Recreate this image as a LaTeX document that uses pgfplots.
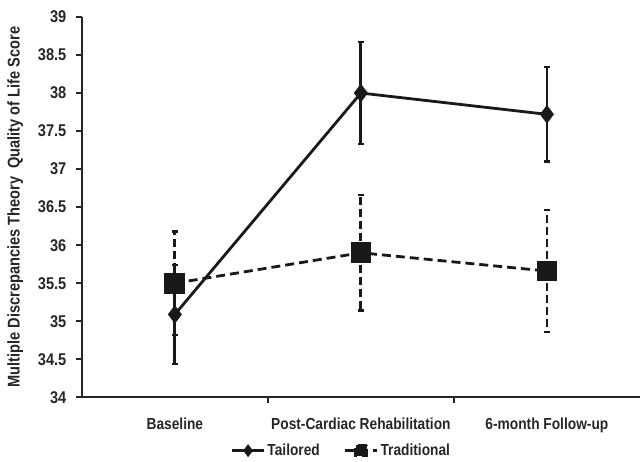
\documentclass[border=0pt]{standalone}
\usepackage{fontspec}
\setmainfont{Liberation Sans}[FakeStretch=0.86]
\usepackage{pgfplots}
\pgfplotsset{compat=1.18}
\begin{document}
\begin{tikzpicture}
\begin{axis}[
  scale only axis,
  width=559pt, height=381pt,
  xmin=-0.5, xmax=2.5,
  ymin=34, ymax=39,
  ytick={34,34.5,...,39},
  yticklabel style={/pgf/number format/fixed, /pgf/number format/precision=1,
    font=\fontsize{17}{19}\selectfont\bfseries, xshift=-6pt},
  /pgf/number format/assume math mode=true,
  axis x line*=bottom, axis y line*=left,
  axis line style={-, line width=2.2pt, black!85},
  tick align=outside,
  major tick length=6pt,
  tick style={line width=1.8pt, black!85},
  xtick={0.5,1.5},
  xticklabels={},
  extra x ticks={0,1,2},
  extra x tick labels={Baseline, Post-Cardiac Rehabilitation, 6-month Follow-up},
  extra x tick style={major tick length=0pt, tick style={draw=none}},
  xticklabel style={yshift=-17pt, font=\fontsize{16}{18}\selectfont\bfseries},
  tick label style={text=black!85},
  ylabel={Multiple Discrepancies Theory\ \ Quality of Life Score},
  ylabel style={font=\fontsize{17}{19}\selectfont\bfseries, text=black!85, yshift=8pt},
  legend style={at={(0.465,-0.112)}, anchor=north, draw=none, legend columns=2,
    font=\fontsize{16}{18}\selectfont\bfseries, text=black!85,
    /tikz/every even column/.append style={column sep=22pt}},
  legend image code/.code={
    \draw[#1, mark options={scale=0.6}, mark repeat=2, mark phase=2] plot coordinates {(0pt,0pt) (16pt,0pt) (32pt,0pt)};
  },
  clip=false,
]
\addplot+[black!90, solid, line width=2.8pt, mark=diamond*, mark size=7pt,
  mark options={solid, fill=black!90},
  error bars/.cd, y dir=both, y explicit,
  error bar style={line width=2.8pt, black!90, solid},
  error mark options={rotate=90, line width=2.4pt, mark size=3pt, black!90}]
coordinates {
  (0,35.09) +- (0,0.65)
  (1,38.00) +- (0,0.67)
  (2,37.72) +- (0,0.62)
};
\addlegendentry{Tailored}
\addplot+[black!90, line width=2.8pt, dash pattern=on 9pt off 5pt, mark=square*, mark size=9pt,
  mark options={solid, fill=black!90},
  error bars/.cd, y dir=both, y explicit,
  error bar style={line width=2.8pt, black!90, dash pattern=on 8pt off 4pt},
  error mark options={rotate=90, line width=2.4pt, mark size=3pt, black!90, solid}]
coordinates {
  (0,35.50) +- (0,0.68)
  (1,35.90) +- (0,0.76)
  (2,35.66) +- (0,0.80)
};
\addlegendentry{Traditional}
\end{axis}
\path ([yshift=17pt]current axis.north);
\path ([xshift=-82pt]current axis.west);
\end{tikzpicture}
\end{document}
